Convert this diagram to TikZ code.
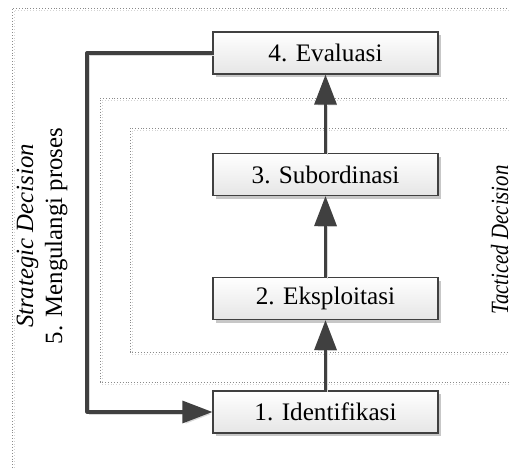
\documentclass[tikz,border=0pt]{standalone}
\usepackage{fontspec}
\setmainfont{Liberation Serif}
\usetikzlibrary{arrows.meta,shadows}

\definecolor{linegray}{HTML}{404040}
\definecolor{framegray}{HTML}{8A8A8A}
\definecolor{frameshade}{HTML}{D4D4D4}

\tikzset{
  stepbox/.style={draw=linegray, line width=0.6pt,
    top color=white, bottom color=black!10,
    minimum width=112.5pt, minimum height=21pt, inner sep=0pt,
    font=\fontsize{12.6}{14}\selectfont,
    drop shadow={opacity=1, fill=black!22, shadow xshift=1.6pt, shadow yshift=-1.6pt}},
  flow/.style={draw=linegray, line width=1.6pt, line join=round,
    -{Triangle[length=15pt,width=11pt]},
    preaction={draw=black!15, transform canvas={shift={(1pt,-1pt)}}}},
  zone/.style={draw=framegray, densely dotted, line width=0.45pt,
    preaction={draw=frameshade, densely dotted, transform canvas={shift={(1.2pt,-1.2pt)}}}},
  sidetext/.style={rotate=90, anchor=base, inner sep=0pt,
    font=\fontsize{12.4}{14}\selectfont},
}

\begin{document}
\begin{tikzpicture}[x=0.5pt, y=-0.5pt]
  \useasboundingbox (0,0) rectangle (509,469);
  \begin{scope}
    \clip (0,0) rectangle (509,469);

    % decision zones
    \draw[zone] (530,8) -- (12,8) -- (12,490);
    \draw[zone] (530,98) -- (100,98) -- (100,382) -- (530,382);
    \draw[zone] (530,128) -- (130,128) -- (130,352) -- (530,352);

    % zone labels
    \node[sidetext] (strat) at (33,236) {\itshape Strategic Decision};
    \node[sidetext] (repeat) at (62,236) {5. Mengulangi proses};
    \node[sidetext] (tact) at (508,240) {\scalebox{0.84}[1]{\itshape Tacticed Decision}};

    % process steps
    \node[stepbox] (eval)  at (325.5,53)    {4. Evaluasi};
    \node[stepbox] (sub)   at (325.5,174.5) {3. Subordinasi};
    \node[stepbox] (eks)   at (325.5,298.5) {2. Eksploitasi};
    \node[stepbox] (ident) at (325.5,412)   {1. Identifikasi};

    % flow between steps
    \draw[flow] (ident) -- (eks);
    \draw[flow] (eks) -- (sub);
    \draw[flow] (sub) -- (eval);

    % feedback loop
    \coordinate (loopTop) at (87,53);
    \coordinate (loopBot) at (87,412);
    \draw[flow] (eval.west) -- (loopTop) -- (loopBot) -- (ident.west);
  \end{scope}
\end{tikzpicture}
\end{document}
